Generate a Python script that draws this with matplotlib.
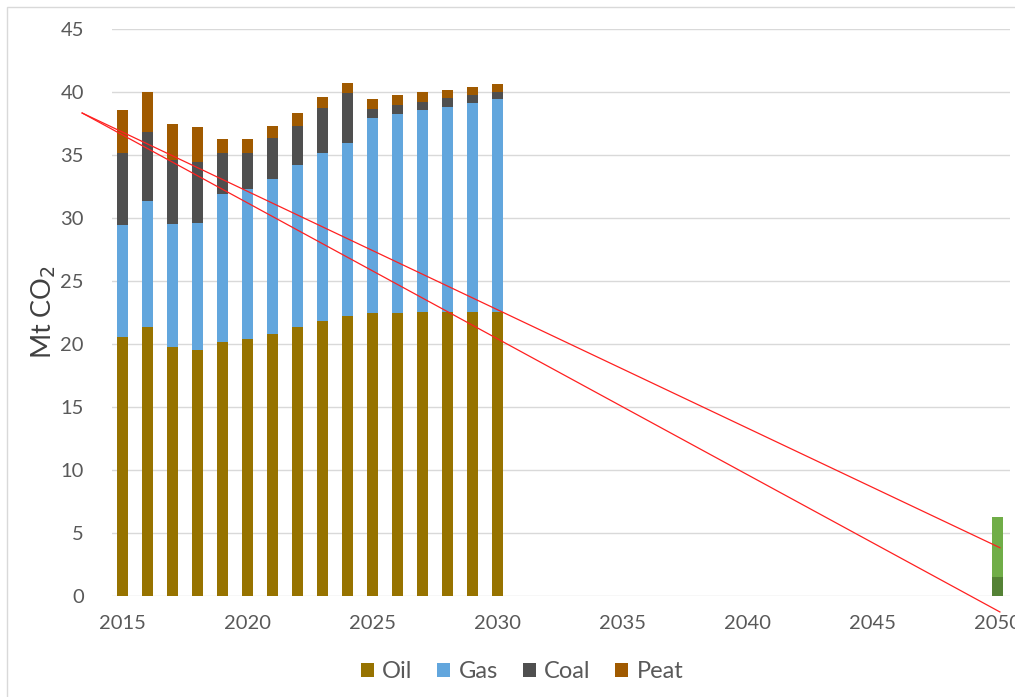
"""
CO2 emissions by fuel, stacked bars with reduction paths to 2050
"""

import numpy as np
import matplotlib
matplotlib.use("Agg")
import matplotlib.pyplot as plt
from matplotlib.patches import Rectangle

plt.rcParams['font.family'] = ['Lato', 'DejaVu Sans']

# data
years = list(range(2015, 2031))
oil = [20.5, 21.3, 19.7, 19.5, 20.1, 20.4, 20.8, 21.3, 21.8, 22.2, 22.4, 22.4, 22.5, 22.5, 22.5, 22.5]
gas = [8.9, 10.0, 9.8, 10.1, 11.8, 11.9, 12.3, 12.9, 13.3, 13.7, 15.5, 15.8, 16.0, 16.3, 16.6, 16.9]
coal = [5.7, 5.5, 5.1, 4.8, 3.2, 2.8, 3.2, 3.1, 3.6, 4.0, 0.7, 0.7, 0.7, 0.7, 0.6, 0.6]
peat = [3.4, 3.2, 2.8, 2.8, 1.1, 1.1, 1.0, 1.0, 0.9, 0.8, 0.8, 0.8, 0.8, 0.6, 0.7, 0.6]

target_year = [2050]
target_low = [1.5]
target_high = [4.75]

# two straight reduction paths (start year/value, end year/value)
path_years = [2013.4, 2050.1]
path_upper = [38.3, 3.8]
path_lower = [38.3, -1.3]

series = [("Oil", oil, "#977300"),
          ("Gas", gas, "#62A6DD"),
          ("Coal", coal, "#4F4F4F"),
          ("Peat", peat, "#A05A00")]

fig = plt.figure(figsize=(10.15, 6.97), dpi=100)
ax = fig.add_axes([0.110, 0.1455, 0.885, 0.8135])

# thin frame round the chart area
fig.patches.append(Rectangle((7 / 1015, -0.05), 1.2, 1 - 7 / 697 + 0.05,
                             transform=fig.transFigure, fill=False,
                             edgecolor="#D9D9D9", linewidth=1))

w = 0.43
bottom = np.zeros(len(years))
for name, vals, col in series:
    ax.bar(years, vals, w, bottom=bottom, color=col, label=name, zorder=2)
    bottom += np.array(vals)

ax.bar(target_year, target_low, w, color="#548235", zorder=2)
ax.bar(target_year, target_high, w, bottom=target_low, color="#70AD47", zorder=2)

ax.plot(path_years, path_upper, color="#FF2020", lw=0.9, zorder=3, clip_on=False)
ax.plot(path_years, path_lower, color="#FF2020", lw=0.9, zorder=3, clip_on=False)

ax.set_xlim(2014.58, 2050.5)
ax.set_ylim(0, 45)
ax.set_xticks(range(2015, 2051, 5))
ax.set_yticks(range(0, 46, 5))
ax.grid(axis="y", color="#D9D9D9", lw=1, zorder=0)
for s in ax.spines.values():
    s.set_visible(False)
ax.tick_params(length=0, labelsize=14.5, colors="#595959")
ax.tick_params(axis="x", pad=14)
ax.tick_params(axis="y", pad=20)
ax.set_ylabel("Mt CO$_2$", fontsize=19.5, color="#404040")
ax.yaxis.set_label_coords(-0.060, 0.5)

ax.legend(loc="upper center", bbox_to_anchor=(0.457, -0.078), ncol=4,
          frameon=False, fontsize=17, handlelength=0.55, handleheight=0.55,
          handletextpad=0.35, columnspacing=1.05, labelcolor="#595959")

fig.savefig("out.png", dpi=100)
